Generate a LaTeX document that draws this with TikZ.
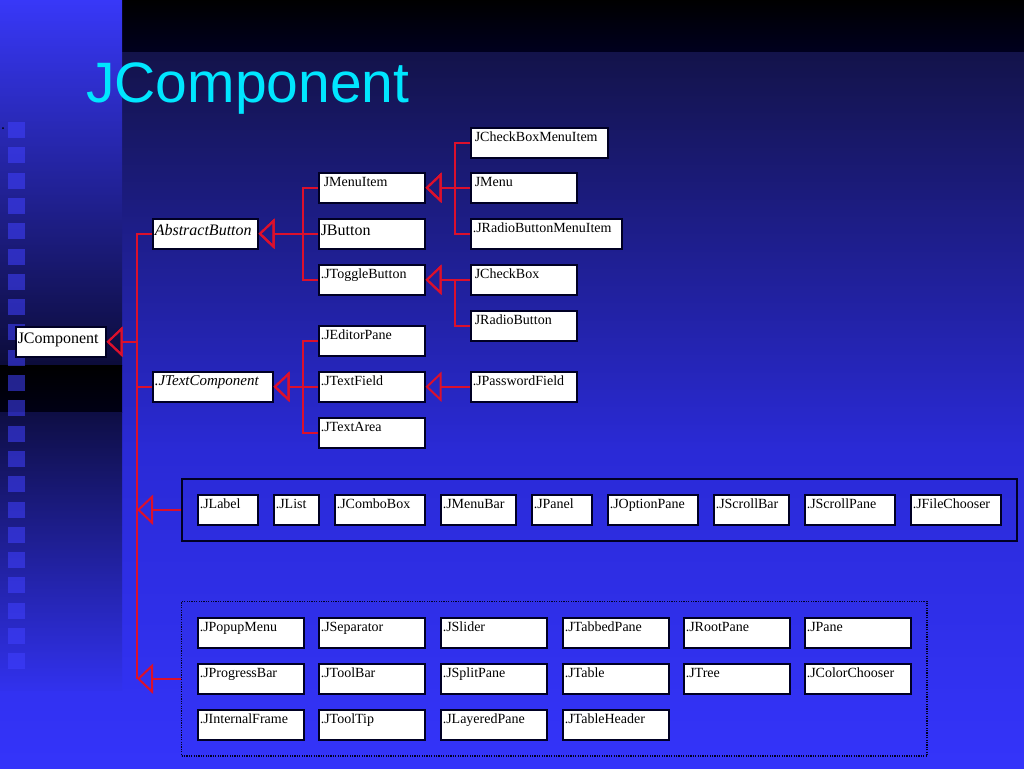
\documentclass[tikz,border=0pt]{standalone}
\usepackage{fontspec}
\setmainfont{Liberation Serif}
\newfontfamily\titlefont{Liberation Sans}
\usepackage{tikz}
\usepackage{xcolor}
\usetikzlibrary{arrows.meta, calc, positioning, fit}

\definecolor{jred}{RGB}{220,16,44}
\definecolor{jcyan}{RGB}{0,230,255}
\definecolor{bgtop}{RGB}{19,19,74}
\definecolor{bgmid}{RGB}{42,42,214}
\definecolor{bgbot}{RGB}{52,52,250}
\definecolor{stripa}{RGB}{56,56,248}
\definecolor{stripb}{RGB}{12,12,58}
\definecolor{stripc}{RGB}{14,14,68}
\definecolor{jsquare}{RGB}{64,64,255}
\definecolor{jnavy}{RGB}{0,0,36}

\begin{document}
\begin{tikzpicture}[x=1pt, y=-1pt,
    cls/.style={draw=jnavy, line width=1.5pt, fill=white, anchor=north west, align=left,
        inner xsep=2pt, inner ysep=1.5pt, text height=12pt, text depth=15pt,
        font=\fontsize{14}{16}\selectfont},
    big/.style={font=\fontsize{16}{18}\selectfont, text height=15.5pt, text depth=11.5pt},
    inherit/.style={draw=jred, line width=2pt, -{Triangle[open, length=16pt, width=30pt]}},
    link/.style={draw=jred, line width=2pt},
    tree/.style={to path={-- ++(-15,0) |- (\tikztotarget)}},
    group/.style={draw=jnavy, inner sep=15.5pt}]
    \useasboundingbox (0,0) rectangle (1024,768);

    % slide background
    \shade[top color=bgtop, bottom color=bgmid] (0,52) rectangle (1024,450);
    \shade[top color=bgmid, bottom color=bgbot] (0,450) rectangle (1024,768);
    \shade[top color=black, bottom color=black!88!blue] (122,0) rectangle (1024,52);
    \shade[top color=stripa, bottom color=stripb] (0,0) rectangle (122,365);
    \shade[top color=black, bottom color=black!92!blue] (0,365) rectangle (122,412);
    \shade[top color=stripc, bottom color=bgbot!95!black] (0,412) rectangle (122,690);
    \foreach \i in {0,...,21}
        \fill[jsquare, opacity=0.55] (8, {122+25.3*\i}) rectangle ++(17,16);
    \fill[black] (3,128) circle (1);

    \node[font=\titlefont\fontsize{57}{60}\selectfont, text=jcyan, anchor=base west, inner sep=0] (title) at (86, 102) {JComponent};

    % hierarchy
    \node[cls, big, text width=86pt] (jcomponent) at (15, 326) {JComponent};
    \node[cls, big, text width=101pt, font=\fontsize{16}{18}\selectfont\itshape] (abstractbutton) at (152, 218) {AbstractButton};
    \node[cls, text width=116pt, font=\fontsize{15}{17}\selectfont\itshape, text height=12.5pt, text depth=14.5pt] (jtextcomponent) at (152, 371) {.JTextComponent};

    \node[cls, text width=102pt] (jmenuitem) at (318, 172) {\hspace{3pt}JMenuItem};
    \node[cls, big, text width=102pt] (jbutton) at (318, 218) {JButton};
    \node[cls, text width=102pt] (jtogglebutton) at (318, 264) {.JToggleButton};
    \node[cls, text width=102pt] (jeditorpane) at (318, 325) {.JEditorPane};
    \node[cls, text width=102pt] (jtextfield) at (318, 371) {.JTextField};
    \node[cls, text width=102pt] (jtextarea) at (318, 417) {.JTextArea};

    \node[cls, text width=133pt] (jcheckboxmenuitem) at (470, 127) {\hspace{2pt}JCheckBoxMenuItem};
    \node[cls, text width=102pt] (jmenu) at (470, 172) {\hspace{2pt}JMenu};
    \node[cls, text width=147pt] (jradiobuttonmenuitem) at (470, 218) {.JRadioButtonMenuItem};
    \node[cls, text width=102pt] (jcheckbox) at (470, 264) {\hspace{2pt}JCheckBox};
    \node[cls, text width=102pt] (jradiobutton) at (470, 310) {\hspace{2pt}JRadioButton};
    \node[cls, text width=102pt] (jpasswordfield) at (470, 371) {.JPasswordField};

    % direct subclasses, one row
    \node[cls, text width=56pt] (jlabel) at (197, 494) {.JLabel};
    \node[cls, text width=41pt] (jlist) at (273, 494) {.JList};
    \node[cls, text width=86pt] (jcombobox) at (334, 494) {.JComboBox};
    \node[cls, text width=71pt] (jmenubar) at (440, 494) {.JMenuBar};
    \node[cls, text width=56pt] (jpanel) at (531, 494) {.JPanel};
    \node[cls, text width=86pt] (joptionpane) at (607, 494) {.JOptionPane};
    \node[cls, text width=71pt] (jscrollbar) at (713, 494) {.JScrollBar};
    \node[cls, text width=86pt] (jscrollpane) at (804, 494) {.JScrollPane};
    \node[cls, text width=86pt] (jfilechooser) at (910, 494) {.JFileChooser};
    \node[group, line width=2pt, fit=(jlabel) (jfilechooser)] (leafrow) {};

    % direct subclasses, grid
    \node[cls, text width=102pt] (jpopupmenu) at (197, 617) {.JPopupMenu};
    \node[cls, text width=102pt] (jseparator) at (318, 617) {.JSeparator};
    \node[cls, text width=102pt] (jslider) at (440, 617) {.JSlider};
    \node[cls, text width=102pt] (jtabbedpane) at (562, 617) {.JTabbedPane};
    \node[cls, text width=102pt] (jrootpane) at (683, 617) {.JRootPane};
    \node[cls, text width=102pt] (jpane) at (804, 617) {.JPane};
    \node[cls, text width=102pt] (jprogressbar) at (197, 663) {.JProgressBar};
    \node[cls, text width=102pt] (jtoolbar) at (318, 663) {.JToolBar};
    \node[cls, text width=102pt] (jsplitpane) at (440, 663) {.JSplitPane};
    \node[cls, text width=102pt] (jtable) at (562, 663) {.JTable};
    \node[cls, text width=102pt] (jtree) at (683, 663) {.JTree};
    \node[cls, text width=102pt] (jcolorchooser) at (804, 663) {.JColorChooser};
    \node[cls, text width=102pt] (jinternalframe) at (197, 709) {.JInternalFrame};
    \node[cls, text width=102pt] (jtooltip) at (318, 709) {.JToolTip};
    \node[cls, text width=102pt] (jlayeredpane) at (440, 709) {.JLayeredPane};
    \node[cls, text width=102pt] (jtableheader) at (562, 709) {.JTableHeader};
    \node[group, line width=1.2pt, dash pattern=on 1.2pt off 1.2pt, fit=(jpopupmenu) (jcolorchooser) (jinternalframe)] (leafgrid) {};

    \coordinate (trunk) at (137, 341);

    \draw
    (jmenuitem.west) edge[inherit, tree] (abstractbutton.east)
    (jbutton.west) edge[inherit, tree] (abstractbutton.east)
    (jtogglebutton.west) edge[inherit, tree] (abstractbutton.east)
    (jeditorpane.west) edge[inherit, tree] (jtextcomponent.east)
    (jtextfield.west) edge[inherit, tree] (jtextcomponent.east)
    (jtextarea.west) edge[inherit, tree] (jtextcomponent.east)
    (jcheckboxmenuitem.west) edge[inherit, tree] (jmenuitem.east)
    (jmenu.west) edge[inherit, tree] (jmenuitem.east)
    (jradiobuttonmenuitem.west) edge[inherit, tree] (jmenuitem.east)
    (jcheckbox.west) edge[inherit, tree] (jtogglebutton.east)
    (jradiobutton.west) edge[inherit, tree] (jtogglebutton.east)
    (jpasswordfield.west) edge[inherit, tree] (jtextfield.east)
    (abstractbutton.west) edge[inherit, tree] (jcomponent.east)
    (jtextcomponent.west) edge[inherit, tree] (jcomponent.east)
    (trunk) edge[link] (trunk |- leafgrid.west)
    (leafrow.west) edge[inherit] (leafrow.west -| trunk)
    (leafgrid.west) edge[inherit] (leafgrid.west -| trunk);
\end{tikzpicture}
\end{document}
